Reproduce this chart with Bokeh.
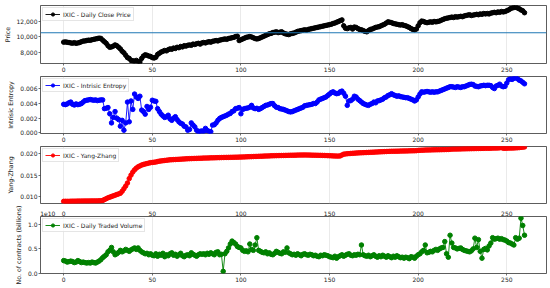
from bokeh.plotting import figure
from bokeh.layouts import column
from bokeh.models import (Span, Legend, LegendItem, FixedTicker, NumeralTickFormatter,
                          CustomJSTickFormatter, Range1d, LinearAxis)
from bokeh.embed import file_html
from bokeh.resources import INLINE

# ---------------- data ----------------
price = [
    9350, 9380, 9330, 9300, 9250, 9220, 9280, 9200, 9250, 9300,
    9400, 9480, 9500, 9550, 9600, 9580, 9650, 9700, 9750, 9800,
    9850, 9820, 9600, 9400, 9200, 8900, 8700, 8750, 8850, 9000,
    8900, 8700, 8500, 8200, 8000, 7700, 7400, 7300, 7050, 7000,
    6950, 7050, 6900, 6850, 7300, 7600, 7750, 7700, 7600, 7550,
    7400, 7350, 7450, 7800, 7950, 8100, 8200, 8300, 8250, 8400,
    8500, 8450, 8600, 8550, 8700, 8650, 8800, 8750, 8900, 8850,
    8950, 9000, 8950, 9100, 9050, 9150, 9200, 9100, 9250, 9300,
    9250, 9350, 9400, 9350, 9450, 9500, 9550, 9500, 9600, 9650,
    9700, 9750, 9700, 9800, 9850, 9900, 9950, 10050, 10100, 9550,
    9650, 9750, 9850, 9950, 10000, 10050, 10000, 9900, 9800, 9750,
    9800, 9900, 10000, 10100, 10200, 10300, 10400, 10450, 10550, 10600,
    10650, 10550, 10600, 10650, 10500, 10400, 10350, 10300, 10400, 10450,
    10500, 10600, 10700, 10750, 10800, 10850, 10900, 10850, 10950, 11000,
    11050, 11100, 11150, 11200, 11250, 11300, 11350, 11400, 11450, 11500,
    11550, 11600, 11700, 11750, 11850, 11950, 12050, 12150, 11400, 11100,
    11050, 11150, 11200, 11000, 11250, 11200, 11050, 10950, 10900, 10800,
    10700, 10650, 10800, 10950, 11000, 11100, 11200, 11250, 11300, 11400,
    11500, 11600, 11750, 11900, 11850, 11800, 11700, 11650, 11600, 11550,
    11500, 11550, 11450, 11400, 11300, 11200, 11050, 10950, 10900, 11000,
    11400, 11800, 12000, 11950, 11850, 11800, 11850, 11900, 11850, 11950,
    11900, 11950, 12000, 12100, 12200, 12300, 12350, 12400, 12450, 12500,
    12450, 12550, 12500, 12550, 12600, 12550, 12650, 12700, 12750, 12800,
    12700, 12750, 12800, 12850, 12800, 12900, 12850, 12950, 12900, 12950,
    12900, 13000, 13050, 13100, 13050, 13150, 13100, 13200, 13150, 13200,
    13300, 13400, 13550, 13650, 13700, 13750, 13650, 13550, 13400, 13300,
    13050,
]

entropy_milli = [
    3.9, 3.85, 3.95, 4.1, 4.2, 3.9, 3.8, 3.95, 3.85, 3.9,
    4.0, 4.2, 4.4, 4.45, 4.5, 4.55, 4.5, 4.45, 4.5, 4.4,
    4.45, 4.5, 4.5, 3.3, 3.35, 3.45, 2.6, 1.35, 2.1, 2.9,
    2.0, 1.8, 0.9, 1.7, 0.35, 1.35, 4.2, 1.5, 4.35, 3.2,
    5.3, 4.9, 4.7, 5.0, 3.1, 2.9, 2.55, 3.6, 3.2, 3.5,
    4.45, 4.35, 4.3, 3.3, 2.9, 2.55, 2.3, 2.1, 2.2, 2.4,
    1.9, 1.7, 2.0, 2.2, 1.8, 1.5, 1.3, 1.2, 0.9, 0.8,
    0.35, 0.45, 1.35, 1.05, 0.8, 0.35, 0.15, 0.2, 0.25, 0.2,
    0.6, 0.3, 0.2, 0.15, 1.05, 1.1, 1.35, 1.7, 1.95, 2.1,
    2.2, 2.3, 2.4, 2.55, 2.65, 2.9, 3.0, 3.3, 3.35, 3.45,
    2.6, 3.2, 3.3, 3.35, 3.4, 3.5, 3.75, 3.4, 3.3, 3.35,
    3.2, 3.3, 3.45, 3.6, 3.75, 3.8, 3.9, 4.0, 4.0, 3.7,
    3.5, 3.45, 3.3, 3.25, 3.2, 3.1, 3.0, 2.9, 2.85, 2.9,
    3.0, 3.1, 3.2, 3.3, 3.4, 3.5, 3.7, 3.75, 3.8, 3.85,
    3.9, 4.0, 4.0, 4.2, 4.5, 4.6, 4.7, 4.8, 4.9, 5.1,
    5.3, 5.5, 5.6, 5.45, 5.35, 5.4, 5.6, 5.7, 5.4, 5.0,
    3.75, 4.35, 4.4, 4.6, 5.0, 4.9, 4.6, 4.4, 4.2, 4.0,
    3.9, 3.8, 3.75, 3.9, 4.0, 4.2, 4.1, 4.35, 4.4, 4.5,
    4.6, 4.8, 4.9, 5.1, 5.2, 5.35, 5.2, 5.1, 5.0, 5.05,
    4.95, 4.9, 4.85, 4.8, 4.8, 4.7, 4.6, 4.5, 4.35, 4.5,
    4.9, 5.3, 5.6, 5.55, 5.6, 5.65, 5.6, 5.55, 5.6, 5.55,
    5.6, 5.6, 5.7, 5.8, 5.9, 6.0, 6.1, 6.2, 6.3, 6.3,
    6.25, 6.2, 6.3, 6.25, 6.2, 6.3, 6.3, 6.4, 6.5, 6.6,
    6.65, 6.6, 6.4, 6.35, 6.3, 6.4, 6.45, 6.5, 6.45, 6.5,
    6.5, 6.45, 6.2, 6.05, 6.4, 6.5, 6.65, 6.4, 6.3, 6.35,
    6.8, 7.25, 7.4, 7.3, 7.45, 7.55, 7.4, 7.2, 7.1, 6.9,
    6.7,
]

yang_zhang_milli = [
    9.0, 9.0, 9.0, 9.0, 9.02, 9.03, 9.03, 9.04, 9.05, 9.05,
    9.06, 9.06, 9.07, 9.07, 9.08, 9.08, 9.09, 9.09, 9.10, 9.10,
    9.11, 9.12, 9.20, 9.40, 9.60, 9.80, 9.95, 10.10, 10.25, 10.40,
    10.55, 10.70, 10.85, 11.30, 11.90, 12.50, 13.20, 14.20, 15.00, 15.70,
    16.20, 16.60, 16.90, 17.10, 17.30, 17.45, 17.55, 17.65, 17.75, 17.85,
    17.90, 17.95, 18.00, 18.10, 18.20, 18.25, 18.30, 18.35, 18.40, 18.45,
    18.50, 18.52, 18.55, 18.57, 18.60, 18.62, 18.65, 18.67, 18.70, 18.72,
    18.75, 18.77, 18.78, 18.80, 18.82, 18.83, 18.85, 18.86, 18.88, 18.90,
    18.90, 18.92, 18.93, 18.95, 18.95, 18.97, 18.98, 19.00, 19.00, 19.02,
    19.03, 19.04, 19.05, 19.06, 19.07, 19.08, 19.09, 19.10, 19.11, 19.12,
    19.13, 19.15, 19.17, 19.18, 19.20, 19.22, 19.23, 19.25, 19.27, 19.28,
    19.30, 19.32, 19.33, 19.35, 19.37, 19.38, 19.40, 19.42, 19.43, 19.45,
    19.46, 19.47, 19.48, 19.49, 19.50, 19.51, 19.52, 19.53, 19.54, 19.55,
    19.56, 19.57, 19.58, 19.59, 19.60, 19.60, 19.61, 19.60, 19.59, 19.58,
    19.57, 19.56, 19.55, 19.54, 19.53, 19.52, 19.51, 19.50, 19.48, 19.46,
    19.44, 19.42, 19.40, 19.38, 19.36, 19.35, 19.40, 19.60, 19.80, 19.85,
    19.90, 19.93, 19.96, 19.99, 20.02, 20.05, 20.08, 20.10, 20.12, 20.14,
    20.16, 20.18, 20.20, 20.22, 20.24, 20.26, 20.28, 20.30, 20.32, 20.34,
    20.36, 20.38, 20.40, 20.42, 20.44, 20.45, 20.46, 20.47, 20.48, 20.49,
    20.50, 20.51, 20.52, 20.53, 20.54, 20.55, 20.56, 20.57, 20.58, 20.60,
    20.65, 20.68, 20.70, 20.72, 20.74, 20.75, 20.76, 20.77, 20.78, 20.79,
    20.80, 20.81, 20.82, 20.83, 20.84, 20.85, 20.87, 20.88, 20.92, 20.95,
    20.96, 20.97, 20.98, 20.99, 21.00, 21.01, 21.02, 21.03, 21.04, 21.05,
    21.06, 21.07, 21.08, 21.09, 21.10, 21.11, 21.12, 21.13, 21.14, 21.15,
    21.16, 21.17, 21.18, 21.19, 21.20, 21.22, 21.24, 21.30, 21.15, 21.16,
    21.17, 21.18, 21.19, 21.20, 21.22, 21.24, 21.27, 21.30, 21.35, 21.40,
    21.45,
]

volume_billions = [
    2.6, 2.5, 2.3, 2.4, 2.5, 2.4, 2.2, 2.3, 2.6, 2.4,
    2.2, 2.3, 2.2, 2.1, 2.2, 2.1, 2.3, 2.2, 2.1, 2.3,
    2.5, 2.8, 3.2, 3.5, 3.8, 4.4, 4.7, 5.3, 4.4, 3.8,
    4.0, 4.3, 4.7, 4.4, 4.6, 4.9, 4.7, 4.5, 4.8, 5.0,
    5.2, 4.9, 5.2, 4.7, 4.4, 4.2, 4.0, 4.1, 3.8, 4.0,
    3.7, 3.6, 4.0, 3.5, 3.9, 3.7, 4.1, 3.4, 3.8, 3.6,
    4.0, 4.2, 3.7, 3.9, 3.5, 3.8, 4.1, 3.6, 3.4, 3.7,
    3.8, 3.6, 4.2, 3.9, 3.7, 3.5, 3.8, 4.0, 3.9, 4.0,
    3.8, 4.1, 3.9, 4.2, 4.0, 3.8, 4.3, 4.4, 3.8, 3.9,
    0.4, 4.0, 4.5, 5.2, 6.0, 6.6, 6.3, 6.0, 5.5, 5.3,
    5.2, 4.7, 4.5, 4.6, 4.4, 6.0, 4.9, 4.7, 5.8, 7.3,
    4.7, 4.5, 4.3, 4.2, 4.4, 4.0, 4.2, 3.9, 3.8, 4.1,
    4.5, 4.3, 4.1, 4.0, 4.4, 4.3, 5.2, 4.2, 4.0, 3.8,
    3.9, 3.7, 4.0, 3.8, 3.6, 3.9, 4.0, 3.8, 3.7, 3.9,
    3.8, 3.6, 3.7, 3.5, 3.4, 3.7, 3.6, 3.8, 3.7, 3.6,
    3.4, 3.3, 3.2, 3.5, 3.1, 3.4, 3.6, 3.8, 3.5, 3.7,
    3.9, 4.0, 3.7, 3.6, 3.8, 3.7, 3.9, 3.8, 5.8, 3.8,
    3.6, 3.5, 3.7, 3.4, 3.6, 3.8, 3.5, 3.3, 3.6, 3.4,
    3.7, 3.5, 3.3, 3.6, 3.4, 3.2, 3.5, 3.3, 3.6, 3.4,
    3.2, 3.3, 3.1, 3.3, 3.2, 3.0, 3.4, 3.3, 3.1, 3.5,
    3.8, 4.0, 4.4, 4.7, 5.8, 4.2, 4.3, 4.5, 4.4, 4.7,
    4.9, 4.7, 5.0, 5.2, 5.3, 6.5, 4.0, 3.3, 7.8, 6.2,
    5.3, 5.2, 5.0, 5.1, 5.2, 4.9, 4.7, 4.6, 4.5, 4.4,
    4.6, 5.0, 7.2, 5.3, 6.9, 4.5, 3.1, 4.9, 5.1, 4.8,
    5.6, 6.2, 7.3, 7.0, 7.1, 7.2, 7.0, 7.1, 6.9, 6.8,
    6.6, 6.3, 6.2, 6.0, 5.8, 7.3, 7.0, 7.2, 11.3, 9.8,
    7.8,
]

entropy = [v / 1000.0 for v in entropy_milli]
yang_zhang = [v / 1000.0 for v in yang_zhang_milli]

x_ticks = [0, 50, 100, 150, 200, 250]
price_ticks = [8000, 10000, 12000]
entropy_ticks = [0.0, 0.002, 0.004, 0.006]
yz_ticks = [0.010, 0.015, 0.020]
volume_ticks = [0, 5, 10]
offset_text = "1e10"
offset_tick = -9  # x position where the volume axis offset text sits

labels = ["IXIC - Daily Close Price", "IXIC - Intrisic Entropy",
          "IXIC - Yang-Zhang", "IXIC - Daily Traded Volume"]
ylabels = ["Price", "Intrisic Entropy", "Yang-Zhang", "No. of contracts (billions)"]

FONT = "DejaVu Sans"
TXT = "#222222"
TICK_FS = "6px"


def style_axis(ax):
    ax.axis_line_color = None
    ax.major_tick_out = 2
    ax.major_tick_in = 0
    ax.minor_tick_out = 0
    ax.minor_tick_in = 0
    ax.major_tick_line_color = "#333333"
    ax.major_tick_line_width = 0.7
    ax.major_label_text_font = FONT
    ax.major_label_text_font_size = TICK_FS
    ax.major_label_text_color = TXT
    ax.major_label_standoff = 1


def make_fig(height, top, bottom, yr, yticks, formatter, ylabel, x_axis=True):
    p = figure(width=550, height=height, x_range=Range1d(-13.07, 272.4),
               y_range=Range1d(*yr), output_backend="svg", toolbar_location=None,
               tools="", min_border_left=37, min_border_right=4,
               min_border_top=top, min_border_bottom=bottom,
               x_axis_location="below" if x_axis else None)
    p.background_fill_color = "white"
    p.border_fill_color = "white"
    p.outline_line_color = "#333333"
    p.outline_line_width = 0.8
    if x_axis:
        style_axis(p.xaxis[0])
        p.xaxis.ticker = FixedTicker(ticks=x_ticks)
    style_axis(p.yaxis[0])
    p.yaxis.ticker = FixedTicker(ticks=yticks)
    p.yaxis.formatter = formatter
    p.yaxis.axis_label = ylabel
    p.yaxis.axis_label_text_font = FONT
    p.yaxis.axis_label_text_font_size = "6.3px"
    p.yaxis.axis_label_text_font_style = "normal"
    p.yaxis.axis_label_text_color = TXT
    p.yaxis.axis_label_standoff = 3
    p.xgrid.ticker = FixedTicker(ticks=x_ticks)
    p.xgrid.grid_line_color = "#b8b8b8"
    p.xgrid.grid_line_dash = "1 1"
    p.xgrid.grid_line_width = 0.6
    p.ygrid.grid_line_color = None
    return p


def add_series(p, yvals, color, label):
    xs = list(range(len(yvals)))
    ln = p.line(xs, yvals, line_color=color, line_width=0.9)
    sc = p.scatter(xs, yvals, size=4.5, fill_color=color, line_color=color)
    lg = Legend(items=[LegendItem(label=label, renderers=[ln, sc])],
                location="top_left", label_text_font=FONT,
                label_text_font_size="6px", label_text_color=TXT,
                glyph_width=15, glyph_height=8, label_height=8,
                padding=2, margin=2, spacing=0, label_standoff=3,
                border_line_color="#cccccc", border_line_width=0.8,
                background_fill_alpha=0.8)
    p.add_layout(lg)


f1 = make_fig(74, 5, 11, (6660, 13960), price_ticks, NumeralTickFormatter(format="0,0"), ylabels[0])
add_series(f1, price, "black", labels[0])
mean_price = sum(price) / len(price)
f1.add_layout(Span(location=mean_price, dimension="width", line_color="#1f77b4", line_width=1.1))

f2 = make_fig(70, 2, 11, (-0.0001, 0.0077), entropy_ticks, NumeralTickFormatter(format="0.000"), ylabels[1])
add_series(f2, entropy, "blue", labels[1])

# panel 3: its x tick numbers are drawn by panel 4's top axis (same row as the "1e10" text)
f3 = make_fig(61, 2, 2, (0.0085, 0.02155), yz_ticks, NumeralTickFormatter(format="0.000"),
              ylabels[2], x_axis=False)
add_series(f3, yang_zhang, "red", labels[2])

f4 = make_fig(83, 11, 15, (-0.04, 11.64), volume_ticks,
              CustomJSTickFormatter(code="return (tick/10).toFixed(1);"), ylabels[3])
add_series(f4, volume_billions, "green", labels[3])
top_axis = LinearAxis(ticker=FixedTicker(ticks=[offset_tick] + x_ticks),
                      major_label_overrides={offset_tick: offset_text})
style_axis(top_axis)
top_axis.major_tick_out = 0
f4.add_layout(top_axis, "above")

layout = column(f1, f2, f3, f4, spacing=0)

open("out.html", "w").write(file_html(layout, INLINE))
